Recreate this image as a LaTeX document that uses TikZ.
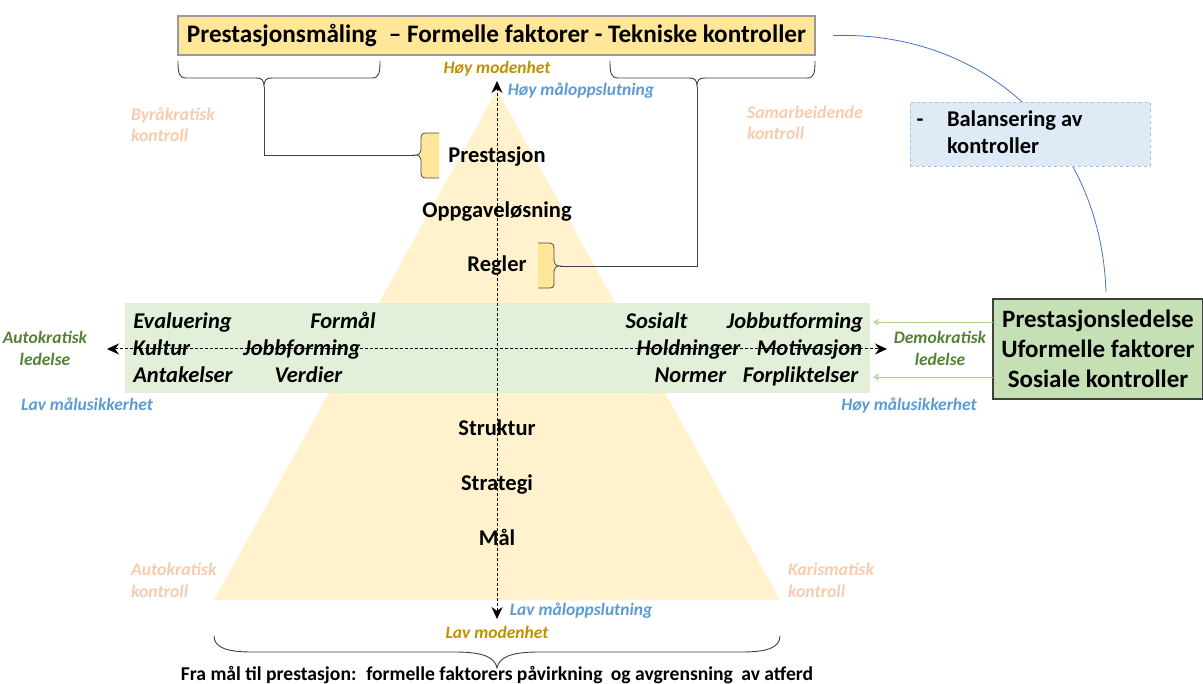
\documentclass[tikz,border=0pt]{standalone}
\usepackage{fontspec}
\setmainfont{Carlito}
\usetikzlibrary{arrows.meta}
\definecolor{titlefill}{HTML}{FFE699}
\definecolor{titledraw}{HTML}{999999}
\definecolor{pyrfill}{HTML}{FFF2CC}
\definecolor{bandfill}{HTML}{E2F0D9}
\definecolor{boxfill}{HTML}{C5E0B4}
\definecolor{boxdraw}{HTML}{404040}
\definecolor{dashfill}{HTML}{DEEBF7}
\definecolor{dashdraw}{HTML}{9DC3E6}
\definecolor{faintorange}{HTML}{F8CBAD}
\definecolor{leadgreen}{HTML}{548235}
\definecolor{goalblue}{HTML}{5B9BD5}
\definecolor{modgold}{HTML}{BF9000}
\definecolor{lightgreen}{HTML}{A9D18E}
\definecolor{curveblue}{HTML}{4472C4}
\definecolor{calfill}{HTML}{FFE699}
\begin{document}
\begin{tikzpicture}[x=1pt,y=-1pt,
  every node/.style={inner sep=0pt,outer sep=0pt},
  pyrlabel/.style={font=\fontsize{22.5}{27}\selectfont\bfseries, anchor=base},
  bandword/.style={font=\fontsize{22.5}{27}\selectfont\bfseries\itshape, anchor=base},
  faintlabel/.style={font=\fontsize{17.8}{21}\selectfont\bfseries\itshape, text=faintorange, anchor=base west},
  goallabel/.style={font=\fontsize{17.5}{21}\selectfont\bfseries\itshape, text=goalblue, anchor=base},
  maturity/.style={font=\fontsize{17.5}{21}\selectfont\bfseries\itshape, text=modgold, anchor=base},
  leadlabel/.style={font=\fontsize{17.5}{21}\selectfont\bfseries\itshape, text=leadgreen, anchor=base},
  bracketline/.style={draw=black!75, line width=0.9pt},
  conn/.style={draw=black!75, line width=0.9pt},
  axisline/.style={draw=black, line width=1pt, dash pattern=on 3pt off 2pt, {Stealth[length=12pt,width=11pt]}-{Stealth[length=12pt,width=11pt]}},
  feed/.style={draw=lightgreen, line width=0.8pt, -{Stealth[length=6pt,width=7pt,open]}},
  callout/.style={fill=calfill},
  calloutline/.style={draw=black!70, line width=0.8pt},
]
\useasboundingbox (0,0) rectangle (1203,684);

% pyramid
\fill[pyrfill] (497,90) -- (780,600) -- (214,600) -- cycle;

% title box
\node[draw=titledraw, fill=titlefill, line width=1.2pt, minimum width=637pt, minimum height=39pt,
  font=\fontsize{25.2}{30}\selectfont\bfseries] (title) at (496.5,35.5)
  {Prestasjonsmåling\hspace{0.25em} – Formelle faktorer - Tekniske kontroller};

% top brackets
\draw[bracketline] (178,61) .. controls (178,73) and (179,78) .. (186,78) -- (256,78)
  .. controls (262,78) and (264,80) .. (264,87) .. controls (264,80) and (266,78) .. (272,78)
  -- (372,78) .. controls (379,78) and (380,73) .. (380,61);
\coordinate (ltip) at (264,87);
\draw[bracketline] (610,61) .. controls (610,73) and (611,78) .. (618,78) -- (689,78)
  .. controls (695,78) and (697,80) .. (697,87) .. controls (697,80) and (699,78) .. (705,78)
  -- (807,78) .. controls (814,78) and (815,73) .. (815,61);
\coordinate (rtip) at (697,87);

% callouts
\fill[callout] (439,133) -- (426,133) .. controls (422,133) and (421,135) .. (421,139) -- (421,150)
  .. controls (421,153) and (419,155) .. (415,155) .. controls (419,155) and (421,157) .. (421,160)
  -- (421,172) .. controls (421,176) and (422,178) .. (426,178) -- (439,178) -- cycle;
\draw[calloutline] (439,133) -- (426,133) .. controls (422,133) and (421,135) .. (421,139) -- (421,150)
  .. controls (421,153) and (419,155) .. (415,155) .. controls (419,155) and (421,157) .. (421,160)
  -- (421,172) .. controls (421,176) and (422,178) .. (426,178) -- (439,178);
\coordinate (lcall) at (415,155);
\fill[callout] (538,243) -- (549,243) .. controls (553,243) and (554,245) .. (554,249) -- (554,261)
  .. controls (554,264) and (556,266) .. (560,266) .. controls (556,266) and (554,268) .. (554,271)
  -- (554,283) .. controls (554,287) and (553,288) .. (549,288) -- (538,288) -- cycle;
\draw[calloutline] (538,243) -- (549,243) .. controls (553,243) and (554,245) .. (554,249) -- (554,261)
  .. controls (554,264) and (556,266) .. (560,266) .. controls (556,266) and (554,268) .. (554,271)
  -- (554,283) .. controls (554,287) and (553,288) .. (549,288) -- (538,288);
\coordinate (rcall) at (560,266);

\draw[conn] (ltip) |- (lcall);
\draw[conn] (rtip) |- (rcall);

% band
\fill[bandfill] (125,303) rectangle (870,393);

% axes
\coordinate (axtop) at (497,81);
\coordinate (axbot) at (497,619);
\coordinate (axleft) at (107,349);
\coordinate (axright) at (887,349);
\draw[axisline] (axbot) -- (axtop);
\draw[axisline] (axleft) -- (axright);

% pyramid labels
\node[pyrlabel] (prest) at (497,163) {Prestasjon};
\node[pyrlabel] (oppg) at (497,218) {Oppgaveløsning};
\node[pyrlabel] (regl) at (497,272) {Regler};
\node[pyrlabel] (strukt) at (497,436) {Struktur};
\node[pyrlabel] (strat) at (497,491) {Strategi};
\node[pyrlabel] (maal) at (497,545) {Mål};

% band words
\node[bandword] (w1) at (182.5,329) {Evaluering};
\node[bandword] (w2) at (343,329) {Formål};
\node[bandword] (w3) at (656.5,329) {Sosialt};
\node[bandword] (w4) at (795,329) {Jobbutforming};
\node[bandword] (w5) at (161.5,356) {Kultur};
\node[bandword] (w6) at (302,356) {Jobbforming};
\node[bandword] (w7) at (688.5,356) {Holdninger};
\node[bandword] (w8) at (809.5,356) {Motivasjon};
\node[bandword] (w9) at (183,383) {Antakelser};
\node[bandword] (w10) at (308.5,383) {Verdier};
\node[bandword] (w11) at (690.5,383) {Normer};
\node[bandword] (w12) at (800.5,383) {Forpliktelser};

% maturity / goal labels
\node[maturity] (hoymod) at (497,74) {Høy modenhet};
\node[goallabel] (hoymaal) at (581,96) {Høy måloppslutning};
\node[goallabel] (lavmaal) at (581,615) {Lav måloppslutning};
\node[maturity] (lavmod) at (497,638) {Lav modenhet};
\node[goallabel] (lavusik) at (87,411) {Lav målusikkerhet};
\node[goallabel] (hoyusik) at (909,411) {Høy målusikkerhet};

% leadership labels
\node[leadlabel] (auto1) at (45,344) {Autokratisk};
\node[leadlabel] (auto2) at (45,366) {ledelse};
\node[leadlabel] (demo1) at (940,344) {Demokratisk};
\node[leadlabel] (demo2) at (940,366) {ledelse};

% faint control labels
\node[faintlabel] (byr1) at (131,121) {Byråkratisk};
\node[faintlabel] (byr2) at (131,142) {kontroll};
\node[faintlabel] (sam1) at (747,119) {Samarbeidende};
\node[faintlabel] (sam2) at (747,140) {kontroll};
\node[faintlabel] (aut1) at (131,576) {Autokratisk};
\node[faintlabel] (aut2) at (131,597) {kontroll};
\node[faintlabel] (kar1) at (788,576) {Karismatisk};
\node[faintlabel] (kar2) at (788,597) {kontroll};

% right box
\node[draw=boxdraw, fill=boxfill, line width=1.2pt, minimum width=210pt, minimum height=100pt,
  align=center, font=\fontsize{25}{30}\selectfont\bfseries] (rbox) at (1098,349)
  {Prestasjonsledelse\\Uformelle faktorer\\Sosiale kontroller};

% feedback arrows
\coordinate (fe1) at (873,322);
\coordinate (fe2) at (873,377);
\draw[feed] (rbox.west |- fe1) -- (fe1);
\draw[feed] (rbox.west |- fe2) -- (fe2);

% blue curve and balancing box
\coordinate (cend) at (1106,292);
\draw[curveblue, line width=0.8pt] ([xshift=18pt]title.east) .. controls (986,31) and (1101,139) .. (cend);
\node[draw=dashdraw, fill=dashfill, dashed, line width=0.8pt, minimum width=240pt, minimum height=64pt] (bal) at (1030,134) {};
\node[font=\fontsize{22.5}{27}\selectfont\bfseries, anchor=base] (baldash) at (920,127) {-};
\node[font=\fontsize{22.5}{27}\selectfont\bfseries, anchor=base west] (bal1) at (947,127) {Balansering av};
\node[font=\fontsize{22.5}{27}\selectfont\bfseries, anchor=base west] (bal2) at (947,154) {kontroller};

% bottom brace
\draw[bracketline] (214,636) .. controls (214,648) and (228,652) .. (252,652) -- (455,652)
  .. controls (485,652) and (495,658) .. (497,668) .. controls (499,658) and (509,652) .. (539,652)
  -- (742,652) .. controls (766,652) and (780,648) .. (780,636);
\coordinate (btip) at (497,668);
\node[font=\fontsize{19.6}{23}\selectfont\bfseries, anchor=base] (caption) at (497,680)
  {Fra mål til prestasjon:\hspace{0.2em} formelle faktorers påvirkning\hspace{0.2em} og avgrensning\hspace{0.2em} av atferd};
\end{tikzpicture}
\end{document}
